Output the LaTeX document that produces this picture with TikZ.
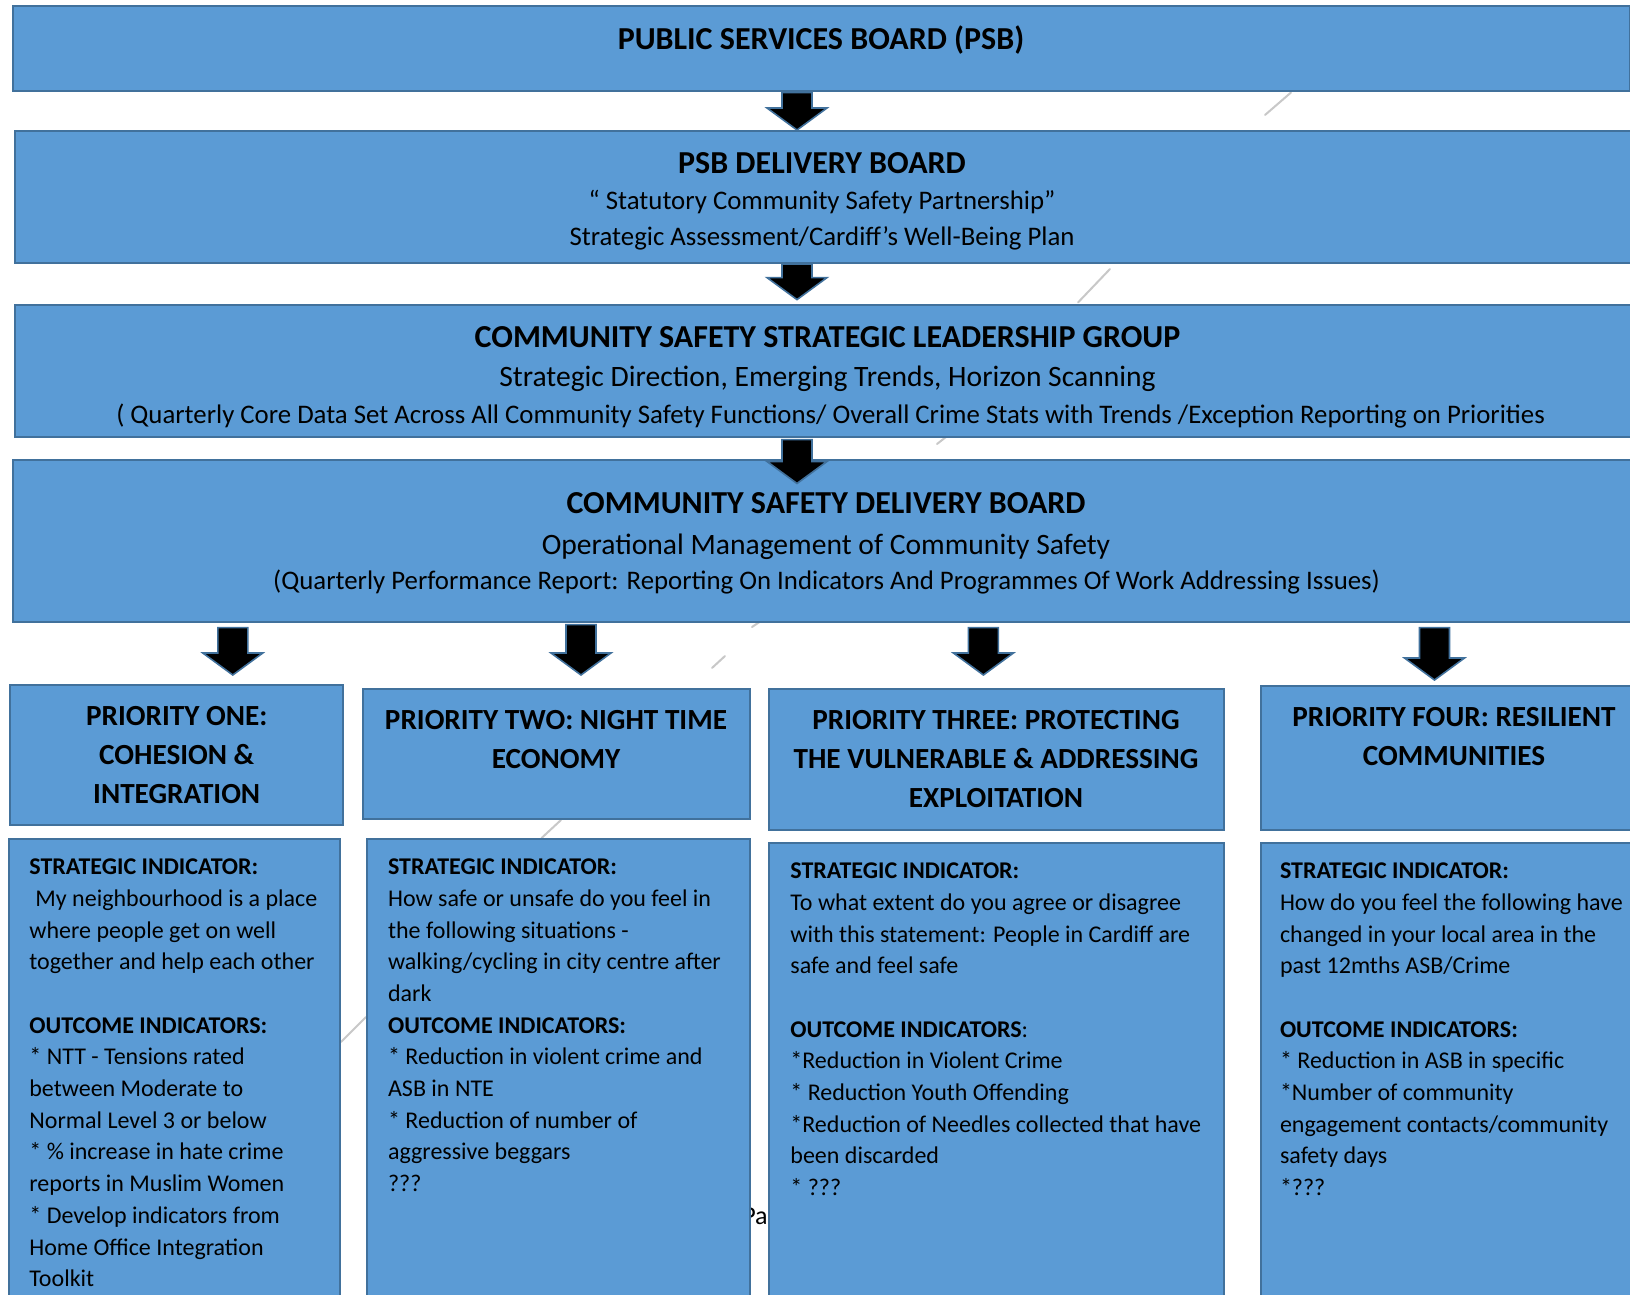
\documentclass[tikz,border=0pt]{standalone}
\usepackage{fontspec}
\setmainfont{Carlito}
\usetikzlibrary{calc,fit}

\definecolor{boxblue}{HTML}{5B9BD5}
\definecolor{boxline}{HTML}{41719C}
\definecolor{stray}{HTML}{C8C8C8}

\tikzset{
  board/.style={draw=boxline, fill=boxblue, line width=1pt, inner sep=0pt},
  bigtitle/.style={anchor=base, inner sep=0pt, font=\bfseries\fontsize{16}{19}\selectfont},
  subline/.style={anchor=base, inner sep=0pt, font=\fontsize{14.8}{17}\selectfont},
  smallline/.style={anchor=base, inner sep=0pt, font=\fontsize{13.4}{16}\selectfont},
  prioritytext/.style={anchor=north, align=center, inner sep=0pt, font=\bfseries\fontsize{14.6}{19.5}\selectfont},
  indicatortext/.style={anchor=north west, align=left, inner sep=0pt, font=\fontsize{12}{15.85}\selectfont},
  blockarrow/.style={fill=black, draw=boxline, line width=0.8pt, line join=miter},
  strayline/.style={draw=stray, line width=1pt, line cap=round}
}

% fat down arrow between two points
\newcommand{\blockarrow}[2]{%
  \path[blockarrow] let \p1=(#1), \p2=(#2) in
    (\x1-7.5pt,\y1) -- (\x1+7.5pt,\y1) -- (\x1+7.5pt,\y2+11pt) -- (\x1+15pt,\y2+11pt)
    -- (\x1,\y2) -- (\x1-15pt,\y2+11pt) -- (\x1-7.5pt,\y2+11pt) -- cycle;}

\begin{document}
\begin{tikzpicture}[x=0.5pt, y=-0.5pt]

    \useasboundingbox[fill=white] (0,0) rectangle (1630,1295);
    \clip (0,0) rectangle (1630,1295);

    % arrow columns
    \coordinate (ax0) at (797,0);
    \coordinate (ax1) at (232.8,0);
    \coordinate (ax2) at (581,0);
    \coordinate (ax3) at (983.4,0);
    \coordinate (ax4) at (1434.5,0);

    % stray grey marks
    \draw[strayline] (1265,115) -- (1291,92.5);
    \draw[strayline] (1078,302.5) -- (1110,269);
    \draw[strayline] (937,444) -- (946,437);
    \draw[strayline] (752,627) -- (761,621);
    \draw[strayline] (712,668) -- (725,656);
    \draw[strayline] (541.6,838) -- (561,820);
    \draw[strayline] (341,1042) -- (366,1017);

    \node[anchor=base east, inner sep=0pt, font=\fontsize{13}{15}\selectfont] (pagenum) at (768,1224) {Pa};

    % Boards
    \node[board, fit={(12.5,6) (1630,91.5)}] (psb) {};
    \node[board, fit={(14.5,131) (1640,263)}] (psbdel) {};
    \node[board, fit={(14.5,304.6) (1640,436.6)}] (csslg) {};
    \node[board, fit={(12.5,459.5) (1640,621.6)}] (csdb) {};

    \node[bigtitle] (psb-t) at (821,50) {PUBLIC SERVICES BOARD (PSB)};

    \node[bigtitle] (psbdel-t) at (822,173.5) {PSB DELIVERY BOARD};
    \node[smallline] (psbdel-a) at (822,210) {“ Statutory Community Safety Partnership”};
    \node[smallline] (psbdel-b) at (822,245.5) {Strategic Assessment/Cardiff’s Well-Being Plan};

    \node[bigtitle] (csslg-t) at (827.5,347.5) {COMMUNITY SAFETY STRATEGIC LEADERSHIP GROUP};
    \node[subline] (csslg-a) at (827.5,386.5) {Strategic Direction, Emerging Trends, Horizon Scanning};
    \node[smallline] (csslg-b) at (830.6,423.5) {( Quarterly Core Data Set Across All Community Safety Functions/ Overall Crime Stats with Trends /Exception Reporting on Priorities};

    \node[bigtitle] (csdb-t) at (826,513.5) {COMMUNITY SAFETY DELIVERY BOARD};
    \node[subline] (csdb-a) at (826,554) {Operational Management of Community Safety};
    \node[smallline] (csdb-b) at (826.5,589.5) {(Quarterly Performance Report: Reporting On Indicators And Programmes Of Work Addressing Issues)};

    % Priorities
    \node[board, fit={(10.4,685) (343,825)}] (p1) {};
    \node[board, fit={(362.8,689) (749.5,819)}] (p2) {};
    \node[board, fit={(769,689) (1223.5,829.5)}] (p3) {};
    \node[board, fit={(1261,686) (1648,829.5)}] (p4) {};

    \node[prioritytext] (p1-t) at (176.7,705.7) {PRIORITY ONE:\\COHESION \&\\INTEGRATION};
    \node[prioritytext] (p2-t) at (556,709.7) {PRIORITY TWO: NIGHT TIME\\ECONOMY};
    \node[prioritytext] (p3-t) at (996,709.7) {PRIORITY THREE: PROTECTING\\THE VULNERABLE \& ADDRESSING\\EXPLOITATION};
    \node[prioritytext] (p4-t) at (1454,706.7) {PRIORITY FOUR: RESILIENT\\COMMUNITIES};

    % Indicators
    \node[board, fit={(9.4,839) (340,1310)}] (ind1) {};
    \node[board, fit={(367,839) (749.5,1310)}] (ind2) {};
    \node[board, fit={(769,843) (1223.5,1310)}] (ind3) {};
    \node[board, fit={(1261,843) (1648,1310)}] (ind4) {};

    \node[indicatortext] (ind1-t) at (29,858.5) {\textbf{STRATEGIC INDICATOR:}\\
      \hspace{0.25em}My neighbourhood is a place\\
      where people get on well\\
      together and help each other\\[15.85pt]
      \textbf{OUTCOME INDICATORS:}\\
      * NTT - Tensions rated\\
      between Moderate to\\
      Normal Level 3 or below\\
      * \% increase in hate crime\\
      reports in Muslim Women\\
      * Develop indicators from\\
      Home Office Integration\\
      Toolkit};

    \node[indicatortext] (ind2-t) at (387.7,858.5) {\textbf{STRATEGIC INDICATOR:}\\
      How safe or unsafe do you feel in\\
      the following situations -\\
      walking/cycling in city centre after\\
      dark\\
      \textbf{OUTCOME INDICATORS:}\\
      * Reduction in violent crime and\\
      ASB in NTE\\
      * Reduction of number of\\
      aggressive beggars\\
      ???};

    \node[indicatortext] (ind3-t) at (790,862.5) {\textbf{STRATEGIC INDICATOR:}\\
      To what extent do you agree or disagree\\
      with this statement: People in Cardiff are\\
      safe and feel safe\\[15.85pt]
      \textbf{OUTCOME INDICATORS}:\\
      *Reduction in Violent Crime\\
      * Reduction Youth Offending\\
      *Reduction of Needles collected that have\\
      been discarded\\
      * ???};

    \node[indicatortext] (ind4-t) at (1279.6,862.5) {\textbf{STRATEGIC INDICATOR:}\\
      How do you feel the following have\\
      changed in your local area in the\\
      past 12mths ASB/Crime\\[15.85pt]
      \textbf{OUTCOME INDICATORS:}\\
      * Reduction in ASB in specific\\
      *Number of community\\
      engagement contacts/community\\
      safety days\\
      *???};

    % Arrows
    \blockarrow{psb.south -| ax0}{psbdel.north -| ax0}
    \blockarrow{psbdel.south -| ax0}{$(csslg.north -| ax0)+(0,-4)$}
    \blockarrow{$(csslg.south -| ax0)+(0,2)$}{$(csdb.north -| ax0)+(0,25)$}

    \blockarrow{$(csdb.south -| ax1)+(0,5)$}{$(p1.north -| ax1)+(0,-9)$}
    \blockarrow{$(csdb.south -| ax2)+(0,2)$}{$(p2.north -| ax2)+(0,-13)$}
    \blockarrow{$(csdb.south -| ax3)+(0,5)$}{$(p3.north -| ax3)+(0,-13)$}
    \blockarrow{$(csdb.south -| ax4)+(0,5)$}{$(p4.north -| ax4)+(0,-5)$}

\end{tikzpicture}
\end{document}
